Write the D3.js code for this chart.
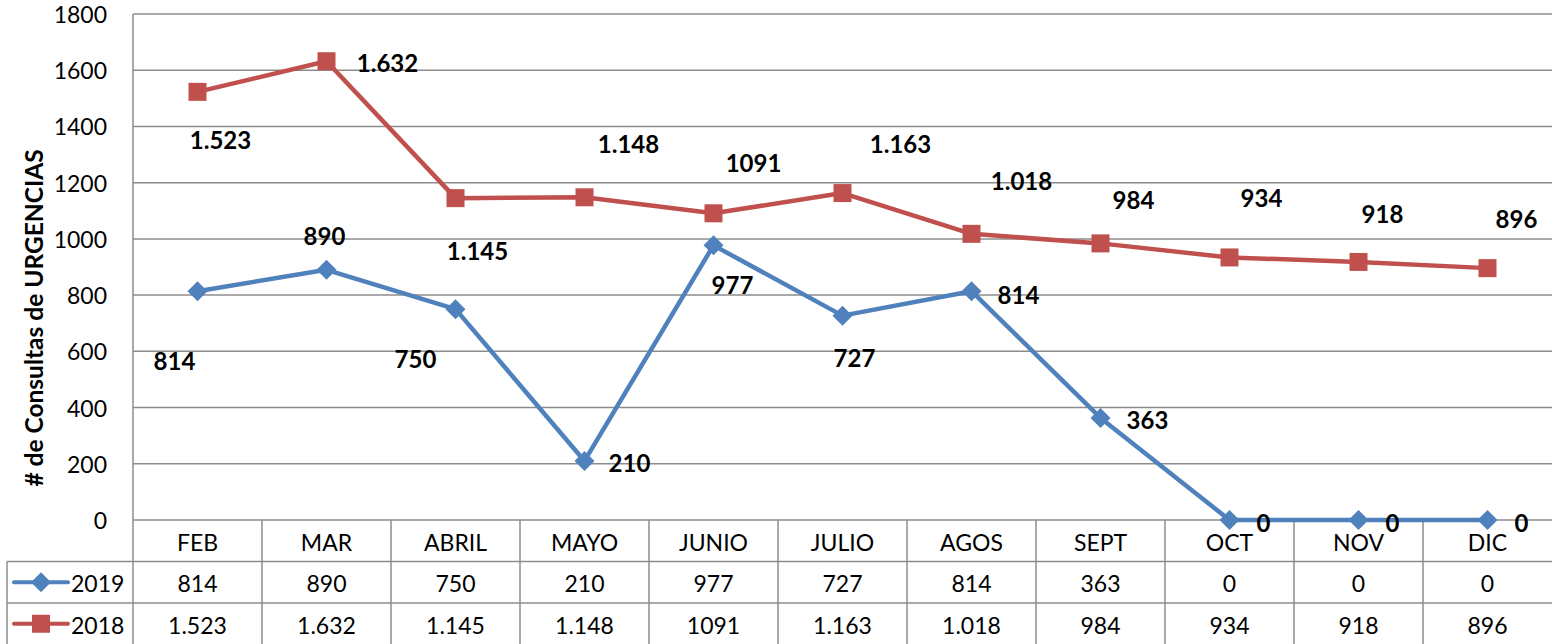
<!DOCTYPE html>
<html>
<head>
<meta charset="utf-8">
<script src="https://cdn.jsdelivr.net/npm/d3@7"></script>
<style>
  body { margin: 0; background: #fff; }
  svg { display: block; font-family: Lato, "Open Sans", sans-serif; }
</style>
</head>
<body>
<svg id="chart" width="1552" height="644"></svg>
<script>
// data
const months = ["FEB", "MAR", "ABRIL", "MAYO", "JUNIO", "JULIO", "AGOS", "SEPT", "OCT", "NOV", "DIC"];
const values2019 = [814, 890, 750, 210, 977, 727, 814, 363, 0, 0, 0];
const values2018 = [1523, 1632, 1145, 1148, 1091, 1163, 1018, 984, 934, 918, 896];
const labels2019 = ["814", "890", "750", "210", "977", "727", "814", "363", "0", "0", "0"];
const labels2018 = ["1.523", "1.632", "1.145", "1.148", "1091", "1.163", "1.018", "984", "934", "918", "896"];
const yTicks = [0, 200, 400, 600, 800, 1000, 1200, 1400, 1600, 1800];

// label placement (manual, like the original)
const offsets2019 = [[-23, 69], [-2, -34], [-40, 49], [45, 2], [19, 39], [12, 42], [47, 3], [47, 2], [34, 2], [34, 2], [34, 2]];
const offsets2018 = [[23, 48], [61, 1], [22, 52], [44, -54], [40, -51], [58, -50], [50, -53], [33, -44], [32, -60], [24, -48], [29, -50]];

const series = [
  { name: "2019", values: values2019, labels: labels2019, offsets: offsets2019, color: "#4F81BD", marker: "diamond" },
  { name: "2018", values: values2018, labels: labels2018, offsets: offsets2018, color: "#C0504D", marker: "square" }
];

const svg = d3.select("#chart");
const plotLeft = 133, plotRight = 1552, plotTop = 14, plotBottom = 520;
const rowH = 41.5;
const tableLeft = 7;
const gridColor = "#8c8c8c";
const fs = 23;

const x = d3.scaleBand().domain(months).range([plotLeft, plotRight]);
const y = d3.scaleLinear().domain([0, 1800]).range([plotBottom, plotTop]);

// gridlines
svg.append("g").selectAll("line").data(yTicks).join("line")
  .attr("x1", plotLeft).attr("x2", plotRight)
  .attr("y1", d => y(d)).attr("y2", d => y(d))
  .attr("stroke", gridColor).attr("stroke-width", 1.5);

// y axis line
svg.append("line")
  .attr("x1", plotLeft).attr("x2", plotLeft).attr("y1", plotTop).attr("y2", 644)
  .attr("stroke", gridColor).attr("stroke-width", 1.5);

// y tick labels
svg.append("g").selectAll("text").data(yTicks).join("text")
  .attr("x", 107).attr("y", d => y(d))
  .attr("text-anchor", "end").attr("dominant-baseline", "central")
  .attr("font-size", fs).attr("fill", "#000")
  .text(d => d);

// y axis title
svg.append("text")
  .attr("transform", "translate(33,318) rotate(-90)")
  .attr("text-anchor", "middle").attr("dominant-baseline", "central")
  .attr("font-size", 24.5).attr("font-weight", "bold")
  .text("# de Consultas de URGENCIAS");

// data table
const table = svg.append("g");
const rowTops = [plotBottom, plotBottom + rowH, plotBottom + 2 * rowH];
[rowTops[1], rowTops[2]].forEach(yy => {
  table.append("line").attr("x1", tableLeft).attr("x2", plotRight)
    .attr("y1", yy).attr("y2", yy).attr("stroke", gridColor).attr("stroke-width", 1.5);
});
table.append("line").attr("x1", tableLeft).attr("x2", tableLeft)
  .attr("y1", rowTops[1]).attr("y2", 644).attr("stroke", gridColor).attr("stroke-width", 1.5);
// column separators
table.selectAll("line.col").data(months.slice(1)).join("line").attr("class", "col")
  .attr("x1", d => x(d)).attr("x2", d => x(d))
  .attr("y1", plotBottom).attr("y2", 644)
  .attr("stroke", gridColor).attr("stroke-width", 1.5);
// header
table.selectAll("text.hdr").data(months).join("text").attr("class", "hdr")
  .attr("x", d => x(d) + x.bandwidth() / 2).attr("y", plotBottom + rowH / 2 + 1)
  .attr("text-anchor", "middle").attr("dominant-baseline", "central")
  .attr("font-size", fs).text(d => d);

function drawMarker(g, s, cx, cy) {
  if (s.marker === "square") {
    g.append("rect").attr("x", cx - 9).attr("y", cy - 9).attr("width", 18).attr("height", 18)
      .attr("fill", s.color);
  } else {
    g.append("path").attr("d", `M${cx},${cy - 10}L${cx + 10},${cy}L${cx},${cy + 10}L${cx - 10},${cy}Z`)
      .attr("fill", s.color);
  }
}

series.forEach((s, i) => {
  const cy = rowTops[i + 1] + rowH / 2;
  table.append("g").selectAll("text").data(s.labels).join("text")
    .attr("x", (d, j) => x(months[j]) + x.bandwidth() / 2).attr("y", cy + 1)
    .attr("text-anchor", "middle").attr("dominant-baseline", "central")
    .attr("font-size", fs).text(d => d);
  // legend key
  table.append("line").attr("x1", 14).attr("x2", 68).attr("y1", cy).attr("y2", cy)
    .attr("stroke", s.color).attr("stroke-width", 4).attr("stroke-linecap", "round");
  drawMarker(table, s, 41, cy);
  table.append("text").attr("x", 71).attr("y", cy + 1)
    .attr("dominant-baseline", "central").attr("font-size", fs).text(s.name);
});

// lines + markers
const line = d3.line()
  .x((d, j) => x(months[j]) + x.bandwidth() / 2)
  .y(d => y(d));

series.slice().reverse().forEach(s => {
  const g = svg.append("g");
  g.append("path").datum(s.values).attr("d", line)
    .attr("fill", "none").attr("stroke", s.color).attr("stroke-width", 4.5)
    .attr("stroke-linejoin", "round");
  s.values.forEach((v, j) => drawMarker(g, s, x(months[j]) + x.bandwidth() / 2, y(v)));
});

// data labels
series.forEach(s => {
  svg.append("g").selectAll("text").data(s.labels).join("text")
    .attr("x", (d, j) => x(months[j]) + x.bandwidth() / 2 + s.offsets[j][0])
    .attr("y", (d, j) => y(s.values[j]) + s.offsets[j][1])
    .attr("text-anchor", "middle").attr("dominant-baseline", "central")
    .attr("font-size", 24).attr("font-weight", "bold").attr("fill", "#000")
    .text(d => d);
});
</script>
</body>
</html>
